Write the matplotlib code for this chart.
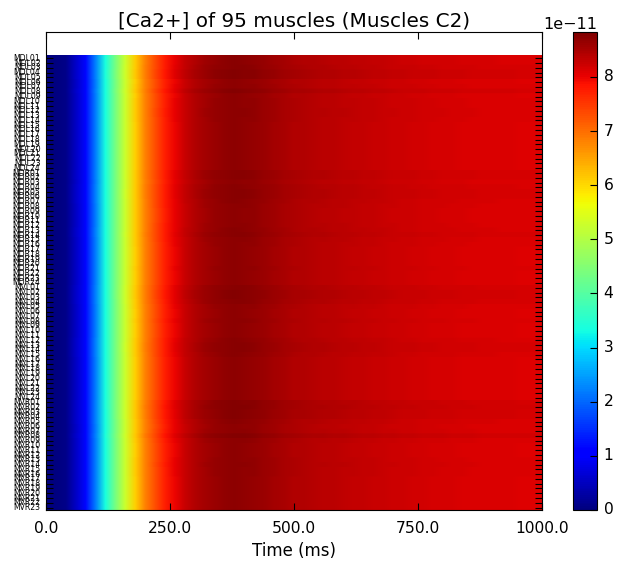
import numpy as np
import matplotlib
matplotlib.use('Agg')
import matplotlib.pyplot as plt

# time knots (ms) and typical [Ca2+] curve read from the colours, in units of 1e-11
times = list(range(0, 1001, 20))
base_curve = [0.0, 0.02, 0.1, 0.55, 1.15, 2.2, 3.35, 4.35, 5.25, 6.1, 6.8,
              7.3, 7.75, 8.0, 8.25, 8.42, 8.54, 8.62, 8.67, 8.7, 8.68,
              8.65, 8.6, 8.55, 8.5, 8.45, 8.42, 8.39, 8.37, 8.35, 8.33,
              8.31, 8.29, 8.27, 8.25, 8.23, 8.21, 8.2, 8.18, 8.17, 8.16,
              8.15, 8.14, 8.13, 8.12, 8.12, 8.11, 8.11, 8.1, 8.1, 8.1]

# how much darker (higher) each muscle row sits compared with the curve
mdl_offsets = [0.03, 0.03, 0.05, 0.08, 0.08, 0.0, 0.01, 0.07, 0.0, 0.01, 0.01, 0.02,
               0.02, 0.01, 0.0, 0.0, 0.0, 0.0, 0.0, 0.0, 0.0, 0.0, 0.0, 0.0]
mdr_offsets = [0.05, 0.05, 0.01, 0.04, 0.05, 0.05, 0.03, 0.02, 0.01, 0.01, 0.01, 0.02,
               0.03, 0.05, 0.02, 0.01, 0.0, 0.0, 0.0, 0.0, 0.01, 0.0, 0.0, 0.0]
mvl_offsets = [0.05, 0.07, 0.07, 0.05, 0.01, 0.0, 0.0, 0.02, 0.0, 0.0, 0.0, 0.03,
               0.05, 0.05, 0.03, 0.0, 0.0, 0.0, 0.0, 0.0, 0.0, 0.0, 0.0, 0.0]
mvr_offsets = [0.08, 0.09, 0.07, 0.07, 0.03, 0.01, 0.02, 0.09, 0.02, 0.0, 0.0, 0.0,
               0.01, 0.02, 0.01, 0.01, 0.0, 0.0, 0.0, 0.0, 0.0, 0.0, 0.0]

muscles = (['MDL%02d' % i for i in range(1, 25)]
           + ['MDR%02d' % i for i in range(1, 25)]
           + ['MVL%02d' % i for i in range(1, 25)]
           + ['MVR%02d' % i for i in range(1, 24)])

offsets = np.array(mdl_offsets + mdr_offsets + mvl_offsets + mvr_offsets)
curve = np.array(base_curve)
values = (curve + np.outer(offsets, curve / curve.max())) * 1e-11
vmax = 8.83e-11

plt.style.use('classic')
fig = plt.figure(figsize=(622 / 80, 570 / 80), dpi=80)
fig.patch.set_facecolor('white')
ax = fig.add_axes([46 / 622, 1 - 510 / 570, 496 / 622, 478 / 570])
cax = fig.add_axes([573 / 622, 1 - 510 / 570, 24 / 622, 478 / 570])

# rows repeated so the bilinear blend stays along the time axis
n = len(muscles)
step = times[1] - times[0]
im = ax.imshow(np.repeat(values, 8, axis=0), aspect='auto', cmap='jet', vmin=0, vmax=vmax,
               interpolation='bilinear', origin='upper',
               extent=[times[0] - step / 2, times[-1] + step / 2, 0, n])

ax.set_xlim(0, 1000)
ax.set_ylim(0, 100)
ax.set_xticks([0, 250, 500, 750, 1000])
ax.set_xticklabels(['0.0', '250.0', '500.0', '750.0', '1000.0'], fontsize=14)
ax.set_yticks(n - np.arange(n) - 0.5)
ax.set_yticklabels(muscles, fontsize=7)
ax.tick_params(axis='both', direction='in', top=True, right=True, length=6, width=1)
ax.tick_params(axis='y', pad=5)
ax.tick_params(axis='x', pad=10)
ax.set_xlabel('Time (ms)', fontsize=15)
ax.set_title('[Ca2+] of 95 muscles (Muscles C2)', fontsize=18)

cb = fig.colorbar(im, cax=cax)
cb.set_ticks(np.arange(0, 9) * 1e-11)
cb.ax.tick_params(labelsize=14, direction='in', length=6, width=1, pad=6)
cb.formatter.set_powerlimits((0, 0))
cb.update_ticks()
cb.ax.yaxis.get_offset_text().set_fontsize(14.4)

fig.savefig('out.png', dpi=80)
